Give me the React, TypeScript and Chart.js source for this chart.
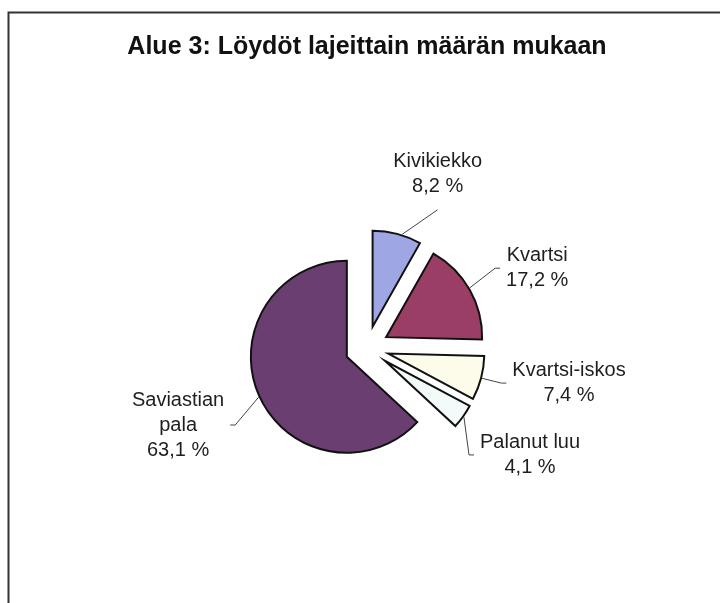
import React, { useEffect, useRef } from 'react';
import { Chart, registerables } from 'chart.js';

Chart.register(...registerables);

const TITLE = 'Alue 3: Löydöt lajeittain määrän mukaan';
const CATEGORIES = ['Kivikiekko', 'Kvartsi', 'Kvartsi-iskos', 'Palanut luu', 'Saviastian pala'];
const LABEL_LINES = [['Kivikiekko'], ['Kvartsi'], ['Kvartsi-iskos'], ['Palanut luu'], ['Saviastian', 'pala']];
const VALUES = [8.2, 17.2, 7.4, 4.1, 63.1];
const COLORS = ['#9fa6e4', '#9a3e66', '#fdfbe9', '#f3fafa', '#6a3e70'];

const FONT = "'Liberation Sans', Arial, Helvetica, sans-serif";
const EXPLODE = 22;
const LINE_H = 25;
const DEG = Math.PI / 180;
// label placement relative to slice mid-angle: angular nudge (deg), distance from pie centre, leader nudge (deg)
const LABEL_PLACEMENT = [
  { nudge: 7.3, dist: 188, leader: 3 },
  { nudge: 4.4, dist: 188, leader: -1 },
  { nudge: -4.9, dist: 205, leader: 0 },
  { nudge: -2.2, dist: 195, leader: 0 },
  { nudge: 1.4, dist: 204, leader: -1 },
];

const fmtPct = (v: number) => v.toFixed(1).replace('.', ',') + ' %';

const framePlugin = {
  id: 'frame',
  beforeDraw(chart: any) {
    const ctx = chart.ctx;
    ctx.save();
    ctx.strokeStyle = '#333';
    ctx.lineWidth = 2;
    ctx.beginPath();
    ctx.moveTo(8.5, 640);
    ctx.lineTo(8.5, 12.5);
    ctx.lineTo(730, 12.5);
    ctx.stroke();
    ctx.restore();
  },
};

const explodePlugin = {
  id: 'explode',
  beforeDatasetsDraw(chart: any) {
    const meta = chart.getDatasetMeta(0);
    meta.data.forEach((arc: any) => {
      const mid = (arc.startAngle + arc.endAngle) / 2;
      arc._ox = arc.x;
      arc._oy = arc.y;
      arc.x = arc._ox + Math.cos(mid) * EXPLODE;
      arc.y = arc._oy + Math.sin(mid) * EXPLODE;
    });
  },
  afterDatasetsDraw(chart: any) {
    const meta = chart.getDatasetMeta(0);
    meta.data.forEach((arc: any) => {
      if (arc._ox !== undefined) {
        arc.x = arc._ox;
        arc.y = arc._oy;
      }
    });
  },
};

const labelPlugin = {
  id: 'pieLabels',
  afterDraw(chart: any) {
    const ctx = chart.ctx;
    const meta = chart.getDatasetMeta(0);
    ctx.save();
    ctx.font = `20px ${FONT}`;
    ctx.textAlign = 'center';
    ctx.textBaseline = 'middle';
    meta.data.forEach((arc: any, i: number) => {
      const mid = (arc.startAngle + arc.endAngle) / 2;
      const cx = arc.x;
      const cy = arc.y;
      const ex = cx + Math.cos(mid) * EXPLODE;
      const ey = cy + Math.sin(mid) * EXPLODE;
      const r = arc.outerRadius;
      const p = LABEL_PLACEMENT[i];
      const a = mid + p.nudge * DEG;
      const lx = cx + Math.cos(a) * p.dist;
      const ly = cy + Math.sin(a) * p.dist;
      const lines = [...LABEL_LINES[i], fmtPct(VALUES[i])];
      const w = Math.max(...lines.map((l) => ctx.measureText(l).width));
      const h = lines.length * LINE_H;

      const la = mid + p.leader * DEG;
      const sx = ex + Math.cos(la) * (r + 1);
      const sy = ey + Math.sin(la) * (r + 1);
      const dx = lx - sx;
      const dy = ly - sy;
      ctx.strokeStyle = '#444';
      ctx.lineWidth = 1;
      ctx.beginPath();
      ctx.moveTo(sx, sy);
      if (Math.abs(dy) > Math.abs(dx)) {
        const ty = dy < 0 ? ly + h / 2 + 11 : ly - h / 2 - 11;
        ctx.lineTo(lx, ty);
      } else {
        const side = dx > 0 ? -1 : 1;
        const tx = lx + side * (w / 2 + 6);
        ctx.lineTo(tx + side * 5, ly);
        ctx.lineTo(tx, ly);
      }
      ctx.stroke();

      ctx.fillStyle = '#1e1e1e';
      lines.forEach((l, k) => {
        ctx.fillText(l, lx, ly + (k - (lines.length - 1) / 2) * LINE_H);
      });
    });
    ctx.restore();
  },
};

export default function App() {
  const ref = useRef<HTMLCanvasElement | null>(null);
  useEffect(() => {
    if (!ref.current) return;
    const chart = new Chart(ref.current, {
      type: 'pie',
      data: {
        labels: CATEGORIES,
        datasets: [
          {
            data: VALUES,
            backgroundColor: COLORS,
            borderColor: '#111',
            borderWidth: 2,
            borderJoinStyle: 'miter',
          } as any,
        ],
      },
      options: {
        responsive: false,
        animation: false,
        events: [],
        layout: { padding: { left: 14, right: 0, top: 0, bottom: 158 } },
        plugins: {
          legend: { display: false },
          tooltip: { enabled: false },
          title: {
            display: true,
            text: TITLE,
            color: '#111',
            font: { family: FONT, size: 25, weight: 'bold' },
            padding: { top: 32, bottom: 189 },
          },
        },
      } as any,
      plugins: [framePlugin, explodePlugin, labelPlugin],
    });
    return () => chart.destroy();
  }, []);
  return (
    <div style={{ position: 'absolute', left: 0, top: 0, width: 720, height: 603, background: '#fff' }}>
      <canvas ref={ref} width={720} height={603} style={{ display: 'block' }} />
    </div>
  );
}
